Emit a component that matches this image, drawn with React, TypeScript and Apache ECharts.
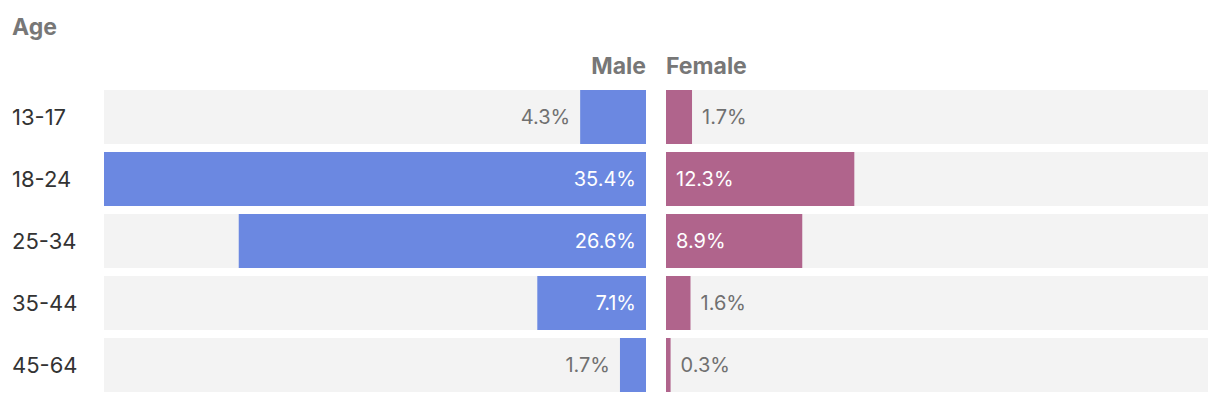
import React, { useEffect, useRef } from "react";
import * as echarts from "echarts";

const categories = ["13-17", "18-24", "25-34", "35-44", "45-64"];
const maleValues = [4.3, 35.4, 26.6, 7.1, 1.7];
const femaleValues = [1.7, 12.3, 8.9, 1.6, 0.3];
const axisMax = 35.4;
const insideThreshold = 5;

const MALE = "#6b88e1";
const FEMALE = "#b0648c";
const BG = "#f3f3f3";
const FONT = "Inter";

export default function App() {
  const ref = useRef<HTMLDivElement>(null);
  useEffect(() => {
    const chart = echarts.init(ref.current!, null, { renderer: "svg" });
    const mkData = (vals: number[], side: "male" | "female") =>
      vals.map((v) => {
        const inside = v >= insideThreshold;
        return {
          value: v,
          label: {
            position: inside
              ? side === "male"
                ? "insideRight"
                : "insideLeft"
              : side === "male"
              ? "left"
              : "right",
            color: inside ? "#ffffff" : "#707070",
          },
        };
      });
    const labelCfg = {
      show: true,
      distance: 10,
      fontSize: 20,
      fontFamily: FONT,
      formatter: (p: any) => p.value.toFixed(1) + "%",
    };
    chart.setOption({
      animation: false,
      textStyle: { fontFamily: FONT },
      graphic: [
        {
          type: "text",
          x: 12,
          y: 27,
          style: {
            text: "Age",
            align: "left",
            verticalAlign: "middle",
            font: `bold 23px "${FONT}"`,
            fill: "#777777",
          },
        },
        {
          type: "text",
          x: 646,
          y: 66,
          style: {
            text: "Male",
            align: "right",
            verticalAlign: "middle",
            font: `bold 23px "${FONT}"`,
            fill: "#777777",
          },
        },
        {
          type: "text",
          x: 666,
          y: 66,
          style: {
            text: "Female",
            align: "left",
            verticalAlign: "middle",
            font: `bold 23px "${FONT}"`,
            fill: "#777777",
          },
        },
      ],
      grid: [
        { left: 104, width: 542, top: 86, height: 310, outerBoundsMode: "none", containLabel: false },
        { left: 666, width: 542, top: 86, height: 310, outerBoundsMode: "none", containLabel: false },
      ],
      xAxis: [
        { gridIndex: 0, type: "value", min: 0, max: axisMax, inverse: true, show: false },
        { gridIndex: 1, type: "value", min: 0, max: axisMax, show: false },
      ],
      yAxis: [
        {
          gridIndex: 0,
          type: "category",
          data: categories,
          inverse: true,
          axisLine: { show: false },
          axisTick: { show: false },
          axisLabel: {
            align: "left",
            margin: 92,
            fontSize: 22,
            color: "#333333",
            fontFamily: FONT,
          },
        },
        {
          gridIndex: 1,
          type: "category",
          data: categories,
          inverse: true,
          show: false,
        },
      ],
      series: [
        {
          type: "bar",
          xAxisIndex: 0,
          yAxisIndex: 0,
          data: mkData(maleValues, "male"),
          barWidth: 54,
          itemStyle: { color: MALE },
          showBackground: true,
          backgroundStyle: { color: BG },
          label: labelCfg,
        },
        {
          type: "bar",
          xAxisIndex: 1,
          yAxisIndex: 1,
          data: mkData(femaleValues, "female"),
          barWidth: 54,
          itemStyle: { color: FEMALE },
          showBackground: true,
          backgroundStyle: { color: BG },
          label: labelCfg,
        },
      ],
    });
    return () => chart.dispose();
  }, []);
  return (
    <div
      ref={ref}
      style={{ position: "absolute", left: 0, top: 0, width: 1220, height: 402 }}
    />
  );
}
